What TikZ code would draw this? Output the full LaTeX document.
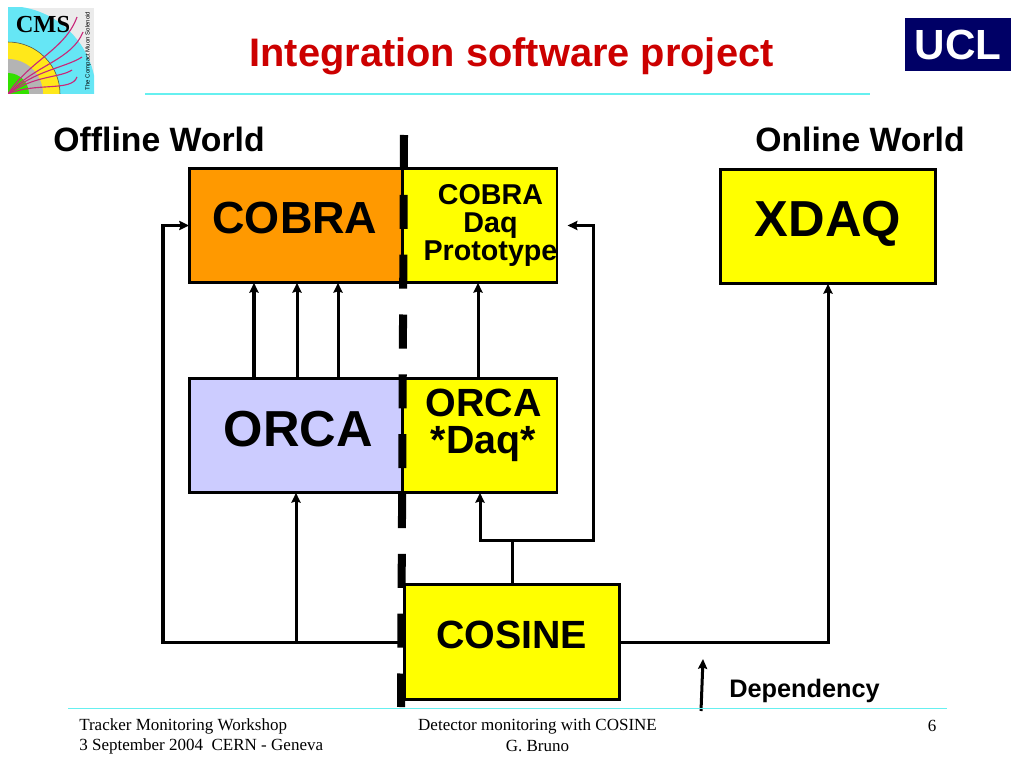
\documentclass[tikz,border=0pt]{standalone}
\usepackage{fontspec}
\setmainfont{Liberation Sans}
\newfontfamily\footfont{Liberation Serif}
\usetikzlibrary{arrows.meta}
\definecolor{titlered}{HTML}{CC0000}
\definecolor{rulecyan}{HTML}{66F0F0}
\definecolor{cobraorange}{HTML}{FF9900}
\definecolor{orcablue}{HTML}{CCCCFF}
\definecolor{boxyellow}{HTML}{FFFF00}
\definecolor{uclblue}{HTML}{000066}
\definecolor{cmscyan}{HTML}{66E6F5}
\definecolor{cmsgrey}{HTML}{B4B4B4}
\definecolor{cmsyellow}{HTML}{FFE81A}
\definecolor{cmsgreen}{HTML}{33E000}
\definecolor{cmsred}{HTML}{C8287A}
\newcommand{\fs}[2]{\fontsize{#1}{#2}\selectfont\bfseries}
\tikzset{
  wbox/.style={draw=black,line width=2.1pt,inner sep=0pt,outer sep=0pt,minimum width=#1,minimum height=81.5pt},
  wbox/.default=152pt,
  dep/.style={line width=2.14pt,-{Stealth[length=7pt,width=6.5pt,inset=1pt]}},
  plainline/.style={line width=2.14pt},
  rulerline/.style={draw=rulecyan,line width=1.1pt},
  boxtext/.style={inner sep=0pt,align=center},
  foot/.style={inner sep=0pt,font=\footfont\fontsize{12.1}{14.4}\selectfont}
}
\begin{document}
\begin{tikzpicture}[x=0.025cm,y=-0.025cm]
\useasboundingbox (0,0) rectangle (1024,768);
% logos
\begin{scope}
\clip (8,8) rectangle (94,94);
\fill[black!8] (8,8) rectangle (94,94);
\fill[cmscyan] (8,94) circle (88);
\fill[cmsyellow] (8,94) circle (52);
\draw[black!70,line width=0.4pt] (8,94) circle (52);
\fill[cmsgrey] (8,94) circle (35);
\fill[cmsgreen] (8,94) circle (21);
\draw[cmsred,line width=0.8pt] (8,94) .. controls (30,60) and (65,50) .. (77,17);
\draw[cmsred,line width=0.8pt] (8,94) .. controls (35,65) and (72,60) .. (83,32);
\draw[cmsred,line width=0.8pt] (8,94) .. controls (35,70) and (65,68) .. (82,57);
\draw[cmsred,line width=0.8pt] (8,94) .. controls (35,75) and (60,78) .. (72,70);
\draw[cmsred,line width=0.8pt] (8,94) .. controls (35,82) and (72,92) .. (77,77);
\end{scope}
\node[inner sep=0pt,font=\footfont\fontsize{17.4}{17}\selectfont\bfseries] (cmsname) at (43,25) {CMS};
\node[inner sep=0pt,rotate=90,font=\fontsize{4.3}{5}\selectfont] (cmsmotto) at (88,51) {The Compact Muon Solenoid};
\node[fill=uclblue,text=white,inner sep=0pt,minimum width=75.5pt,minimum height=37.5pt,font=\fs{30}{30}] (ucl) at (958,44.5) {UCL};
% title
\node[inner sep=0pt,text=titlered,font=\fs{28.3}{34}] (title) at (511.5,56) {Integration software project};
\draw[rulerline] (145,94) -- (870,94);
\node[inner sep=0pt,font=\fs{24}{28}] (offline) at (159,139) {Offline World};
\node[inner sep=0pt,font=\fs{24}{28}] (online) at (860,139) {Online World};
% boxes
\node[wbox,fill=cobraorange] (cobra) at (296,225.5) {};
\node[wbox=109.5pt,fill=boxyellow] (cobradaq) at (480,225.5) {};
\node[wbox=153.5pt,fill=boxyellow] (xdaq) at (828,226.5) {};
\node[wbox,fill=orcablue] (orca) at (296,435.5) {};
\node[wbox=109.5pt,fill=boxyellow] (orcadaq) at (480,435.5) {};
\node[wbox=153.5pt,fill=boxyellow] (cosine) at (512,642) {};
\node[boxtext,font=\fs{32}{36}] (cobratext) at (295,218.5) {COBRA};
\node[boxtext,font=\fs{20.4}{19.9}] (cobradaqtext) at (490.5,225) {COBRA\\Daq\\Prototype};
\node[boxtext,font=\fs{36}{40}] (xdaqtext) at (828,224) {XDAQ};
\node[boxtext,font=\fs{36}{40}] (orcatext) at (298.5,429) {ORCA};
\node[boxtext,font=\fs{28}{26.3}] (orcadaqtext) at (483.5,425) {ORCA\\*Daq*};
\node[boxtext,font=\fs{28}{32}] (cosinetext) at (511.5,635) {COSINE};
% dependencies
\draw[dep] (orca.north -| 254,0) -- (cobra.south -| 254,0);
\draw[dep] (orca.north -| 297,0) -- (cobra.south -| 297,0);
\draw[dep] (orca.north -| 338,0) -- (cobra.south -| 338,0);
\draw[dep] (orcadaq.north -| 478,0) -- (cobradaq.south -| 478,0);
\draw[dep] (cosine.west) -- (cosine.west -| 163,0) |- (cobra.west);
\draw[dep] (cosine.west -| orca.south) -- (orca.south);
\draw[dep] (cosine.east) -| (xdaq.south);
\coordinate (split) at (cosine.north |- 0,540);
\draw[plainline] (cosine.north) -- (split);
\draw[dep] (split) -| (orcadaq.south);
\draw[dep,shorten >=7.5pt] (split) -| (593,225.5) -- (cobradaq.east);
\coordinate (depfoot) at (701,711);
\coordinate (dephead) at (703,659);
\draw[dep] (depfoot) -- (dephead);
\node[inner sep=0pt,anchor=west,font=\fs{18}{22}] (deplabel) at (729,691) {Dependency};
% world border
\coordinate (bordertop) at (404,135);
\coordinate (borderfoot) at (401,707);
\draw[line width=5.7pt,dash pattern=on 24.2pt off 18.35pt] (bordertop) -- (borderfoot);
% footer
\draw[rulerline] (68,708.5) -- (947,708.5);
\node[foot,anchor=west] (workshop) at (79,726) {Tracker Monitoring Workshop};
\node[foot,anchor=west] (place) at (79,746) {3 September 2004\ \ CERN - Geneva};
\node[foot] (talk) at (537.5,726) {Detector monitoring with COSINE};
\node[foot] (speaker) at (537.5,746) {G. Bruno};
\node[foot] (page) at (932,726) {6};
\end{tikzpicture}
\end{document}
